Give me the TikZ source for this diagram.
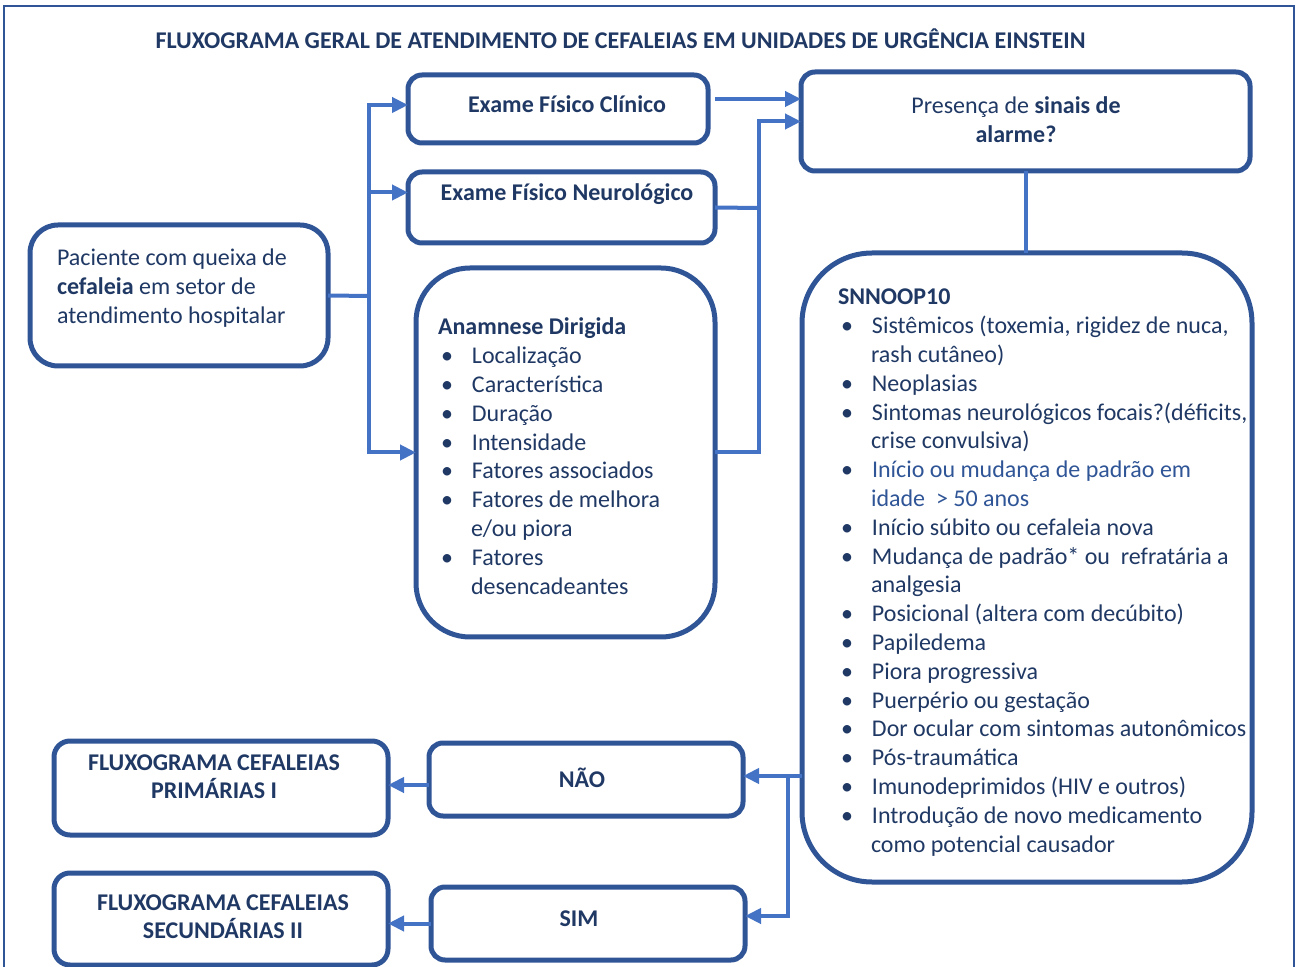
\documentclass[tikz,border=0pt]{standalone}
\usepackage{fontspec}
\setmainfont{Carlito}
\usetikzlibrary{arrows.meta}
\definecolor{azulborda}{HTML}{2F5597}
\definecolor{azultexto}{HTML}{1F3864}
\definecolor{azullinha}{HTML}{4472C4}
\definecolor{azulitem}{HTML}{2F5597}
\newcommand{\centro}[3]{\parbox[t]{#1}{\centering\leftskip=#2 plus 1fil\rightskip=0pt plus 1fil\parfillskip=0pt #3}}
\newcommand{\lista}[3]{\parbox[t]{#1}{\raggedright\leftskip=#2\rightskip=-30pt plus 1fil #3}}
\newcommand{\marca}{\makebox[17pt][l]{\hspace{1.5pt}\textbullet}}
\newcommand{\segue}{\leavevmode\hspace*{16.5pt}}
\begin{document}
\begin{tikzpicture}[x=0.5pt,y=-0.5pt,
  caixa/.style={draw=azulborda,line width=2.5pt,rounded corners=7pt,inner sep=0pt,outer sep=0pt,anchor=north west,text=azultexto,font=\fontsize{12pt}{14.4pt}\selectfont},
  liga/.style={draw=azullinha,line width=2pt},
  seta/.style={liga,-{Triangle[length=8pt,width=7.5pt]}}]
  \useasboundingbox (0,0) rectangle (1301,967);
  \draw[azulborda,line width=1pt] (4,967) -- (4,6) -- (1294,6) -- (1294,967);
  \node[anchor=base,text=azultexto,font=\fontsize{12pt}{14.4pt}\selectfont\bfseries] (titulo) at (620.5,49) {FLUXOGRAMA GERAL DE ATENDIMENTO DE CEFALEIAS EM UNIDADES DE URGÊNCIA EINSTEIN};
  \node[caixa,rounded corners=14pt,text height=20.5pt,text depth=50pt] (paciente) at (30,225) {\lista{149pt}{13.5pt}{Paciente com queixa de\\
    \textbf{cefaleia} em setor de\\
    atendimento hospitalar}};
  \node[caixa,text height=19pt,text depth=15pt] (clinico) at (408,75) {\centro{150pt}{9pt}{\bfseries Exame Físico Clínico}};
  \node[caixa,text height=14.5pt,text depth=21pt] (neuro) at (408,172) {\centro{153.5pt}{5.5pt}{\bfseries Exame Físico Neurológico}};
  \node[caixa,rounded corners=27pt,text height=33.5pt,text depth=151pt] (anamnese) at (416,268) {\lista{149.5pt}{11pt}{\textbf{Anamnese Dirigida}\\
    \marca Localização\\
    \marca Característica\\
    \marca Duração\\
    \marca Intensidade\\
    \marca Fatores associados\\
    \marca Fatores de melhora\\
    \segue e/ou piora\\
    \marca Fatores\\
    \segue desencadeantes}};
  \node[caixa,text height=21pt,text depth=28.5pt] (presenca) at (801,72) {\centro{224.5pt}{-9.5pt}{Presença de \textbf{sinais de}\\
    \textbf{alarme?}}};
  \node[caixa,rounded corners=35pt,text height=26pt,text depth=288.5pt] (snnoop) at (802,253) {\lista{225pt}{18pt}{\textbf{SNNOOP10}\\
    \marca Sistêmicos (toxemia, rigidez de nuca,\\
    \segue rash cutâneo)\\
    \marca Neoplasias\\
    \marca Sintomas neurológicos focais?(déficits,\\
    \segue crise convulsiva)\\
    \marca\textcolor{azulitem}{Início ou mudança de padrão em}\\
    \segue\textcolor{azulitem}{idade\ \ > 50 anos}\\
    \marca Início súbito ou cefaleia nova\\
    \marca Mudança de padrão* ou\ \ refratária a\\
    \segue analgesia\\
    \marca Posicional (altera com decúbito)\\
    \marca Papiledema\\
    \marca Piora progressiva\\
    \marca Puerpério ou gestação\\
    \marca Dor ocular com sintomas autonômicos\\
    \marca Pós-traumática\\
    \marca Imunodeprimidos (HIV e outros)\\
    \marca Introdução de novo medicamento\\
    \segue como potencial causador}};
  \node[caixa,text height=22pt,text depth=14.5pt] (nao) at (429,743) {\centro{157pt}{-4pt}{\bfseries NÃO}};
  \node[caixa,text height=19.5pt,text depth=17pt] (sim) at (431,887) {\centro{157pt}{-9pt}{\bfseries SIM}};
  \node[caixa,rounded corners=8pt,text height=14.5pt,text depth=32.5pt] (primarias) at (54,741) {\centro{167pt}{-7pt}{\bfseries FLUXOGRAMA CEFALEIAS\\
    PRIMÁRIAS I}};
  \node[caixa,rounded corners=8pt,text height=18.5pt,text depth=27.5pt] (secundarias) at (54,873) {\centro{167pt}{2pt}{\bfseries FLUXOGRAMA CEFALEIAS\\
    SECUNDÁRIAS II}};
  \coordinate (ramo) at (369,296);
  \draw[liga] (paciente.east) -- (ramo);
  \draw[seta] (ramo) |- ([yshift=2pt]clinico.west);
  \draw[seta] (ramo) |- ([yshift=7.5pt]neuro.west);
  \draw[seta] (ramo) |- (anamnese.west);
  \draw[seta] ([xshift=3.5pt,yshift=5pt]clinico.east) coordinate (saida) -- (saida -| presenca.west);
  \coordinate (juncao) at (759,208);
  \draw[liga] (neuro.east) -- (juncao);
  \draw[seta] (anamnese.east) -| (juncao) |- (presenca.west);
  \draw[liga] (presenca.south) -- (presenca.south |- snnoop.north);
  \coordinate (bifurca) at (788,776);
  \draw[seta] (snnoop.west |- bifurca) -- (bifurca -| nao.east);
  \draw[seta] (bifurca) |- ([yshift=3.75pt]sim.east);
  \draw[seta] ([yshift=-2.75pt]nao.west) coordinate (volta) -- (volta -| primarias.east);
  \draw[seta] (sim.west) -- (sim.west -| secundarias.east);
\end{tikzpicture}
\end{document}
